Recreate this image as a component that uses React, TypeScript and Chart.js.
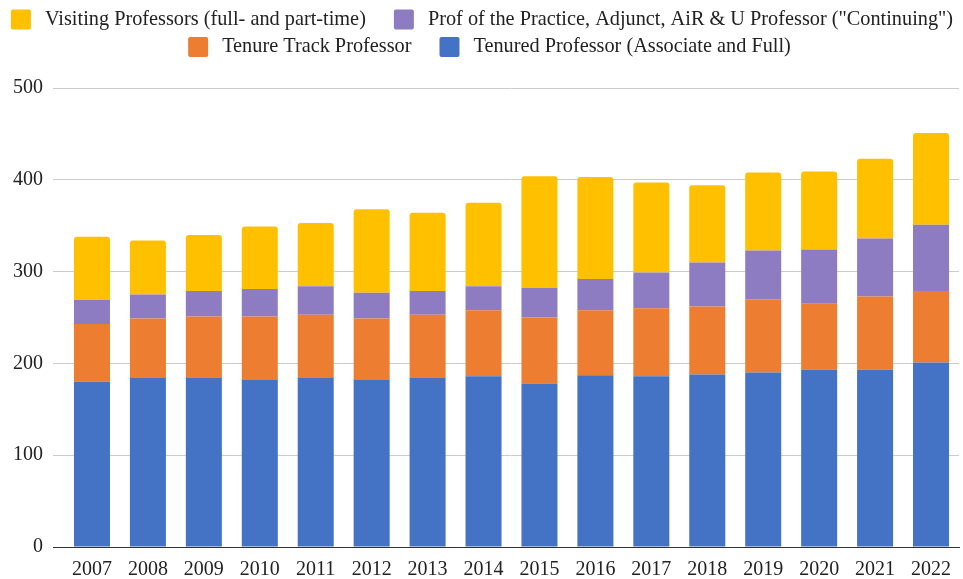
import React, { useEffect, useRef } from "react";
import { Chart, registerables } from "chart.js";

Chart.register(...registerables);

const years = ["2007", "2008", "2009", "2010", "2011", "2012", "2013", "2014", "2015", "2016", "2017", "2018", "2019", "2020", "2021", "2022"];
const tenured = [180, 184, 184, 182, 184, 182, 184, 186, 178, 187, 186, 188, 190, 193, 193, 201];
const tenureTrack = [63, 65, 67, 69, 69, 67, 69, 72, 72, 71, 74, 74, 80, 72, 80, 78];
const continuing = [26, 26, 28, 30, 31, 28, 26, 26, 32, 34, 39, 48, 53, 59, 63, 72];
const visiting = [69, 59, 61, 68, 69, 91, 85, 91, 122, 111, 98, 84, 85, 85, 87, 100];
const yTicks = [0, 100, 200, 300, 400, 500];

const FONT = '"Liberation Serif", "Times New Roman", serif';

const legendPlugin = {
  id: "customLegend",
  afterDraw(chart: any) {
    const ctx = chart.ctx as CanvasRenderingContext2D;
    const dsList = [...chart.data.datasets].reverse();
    ctx.save();
    ctx.font = `20.3px ${FONT}`;
    ctx.textBaseline = "middle";
    ctx.textAlign = "left";
    const box = 20;
    const gapText = 14;
    const gapItem = 28;
    const maxW = chart.width - 12;
    const items = dsList.map((ds: any) => ({
      label: ds.label as string,
      color: ds.backgroundColor as string,
      w: box + gapText + ctx.measureText(ds.label).width,
    }));
    const rows: any[][] = [];
    let cur: any[] = [];
    let curW = 0;
    items.forEach((it: any) => {
      const add = cur.length ? gapItem + it.w : it.w;
      if (cur.length && curW + add > maxW) {
        rows.push(cur);
        cur = [it];
        curW = it.w;
      } else {
        cur.push(it);
        curW += add;
      }
    });
    if (cur.length) rows.push(cur);
    const rowY = [19.5, 47];
    const rowShift = [0.5, 8];
    rows.forEach((row, ri) => {
      const total = row.reduce((s: number, it: any, i: number) => s + it.w + (i ? gapItem : 0), 0);
      let x = chart.width / 2 + (rowShift[ri] || 0) - total / 2;
      const y = rowY[ri] ?? 19.5 + ri * 27.5;
      row.forEach((it: any) => {
        ctx.fillStyle = it.color;
        ctx.beginPath();
        (ctx as any).roundRect(x, y - box / 2, box, box, 2);
        ctx.fill();
        ctx.fillStyle = "#222";
        ctx.fillText(it.label, x + box + gapText, y);
        x += it.w + gapItem;
      });
    });
    ctx.restore();
  },
};

export default function App() {
  const ref = useRef<HTMLCanvasElement | null>(null);

  useEffect(() => {
    document.body.style.margin = "0";
    if (!ref.current) return;
    const chart = new Chart(ref.current, {
      type: "bar",
      data: {
        labels: years,
        datasets: [
          { label: "Tenured Professor (Associate and Full)", data: tenured, backgroundColor: "#4472C4" },
          { label: "Tenure Track Professor", data: tenureTrack, backgroundColor: "#ED7D31" },
          { label: 'Prof of the Practice, Adjunct, AiR & U Professor ("Continuing")', data: continuing, backgroundColor: "#8E7CC3" },
          { label: "Visiting Professors (full- and part-time)", data: visiting, backgroundColor: "#FFC000", borderRadius: 3 },
        ],
      },
      options: {
        responsive: false,
        animation: false,
        layout: { padding: { top: 88, left: 3, right: 4, bottom: -14 } },
        datasets: { bar: { categoryPercentage: 1, barPercentage: 0.644, borderWidth: 0 } },
        plugins: {
          legend: { display: false },
          tooltip: { enabled: false },
        },
        scales: {
          x: {
            stacked: true,
            grid: { display: false, drawTicks: false, tickLength: 0 },
            border: { display: true, color: "#333", width: 1 },
            ticks: { color: "#222", font: { family: FONT, size: 20 }, padding: 11, maxRotation: 0, autoSkip: false },
          },
          y: {
            stacked: true,
            min: yTicks[0],
            max: yTicks[yTicks.length - 1],
            afterBuildTicks: (scale: any) => {
              scale.ticks = yTicks.map((v) => ({ value: v }));
            },
            grid: {
              color: (c: any) => (c.tick && c.tick.value === 0 ? "#333" : "#cccccc"),
              lineWidth: 1,
              drawTicks: true,
              tickLength: 11,
            },
            border: { display: false },
            ticks: { color: "#222", font: { family: FONT, size: 20 }, padding: 10 },
          },
        },
      },
      plugins: [legendPlugin],
    });
    return () => chart.destroy();
  }, []);

  return (
    <div style={{ width: 963, height: 579 }}>
      <canvas ref={ref} width={963} height={579} />
    </div>
  );
}
